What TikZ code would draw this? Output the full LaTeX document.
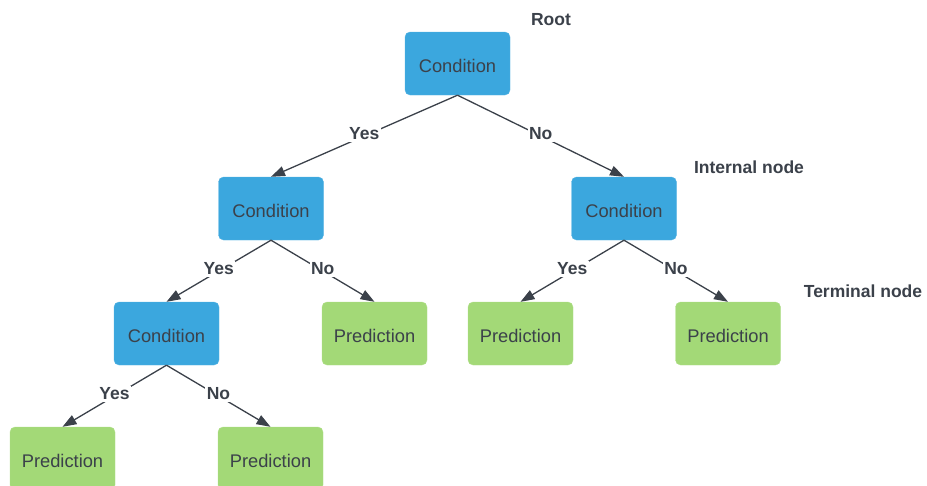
\documentclass[tikz,border=0pt]{standalone}
\usepackage{fontspec}
\setmainfont{Liberation Sans}
\usetikzlibrary{arrows.meta}
\definecolor{condblue}{HTML}{3BA7DE}
\definecolor{predgreen}{HTML}{A3D977}
\definecolor{inkgray}{HTML}{3B414A}
\begin{document}
\begin{tikzpicture}[x=1pt,y=-1pt,
	box/.style={rounded corners=5pt,minimum width=105pt,minimum height=63pt,inner sep=0pt,text height=18pt,text depth=0pt,font=\fontsize{18.3}{21}\selectfont,text=inkgray},
	cond/.style={box,fill=condblue,draw=condblue!85!white},
	pred/.style={box,fill=predgreen,draw=predgreen!85!white},
	edge/.style={draw=inkgray,line width=1.3pt,-{Triangle[length=14pt,width=10pt]}},
	lbl/.style={fill=white,inner sep=1.5pt,yshift=2pt,text=inkgray,font=\fontsize{17.5}{20}\selectfont\bfseries},
	note/.style={text=inkgray,font=\fontsize{17.5}{20}\selectfont\bfseries}]
	\useasboundingbox (0,0) rectangle (927,485);
	% tree
	\node[cond] (root) at (457.5,63.5) {Condition};
	\node[cond] (c1) at (271,208.5) {Condition};
	\node[cond] (c2) at (624,208.5) {Condition};
	\node[cond] (c3) at (166.5,333.5) {Condition};
	\node[pred] (p1) at (374.5,333.5) {Prediction};
	\node[pred] (p2) at (520.5,333.5) {Prediction};
	\node[pred] (p3) at (728,333.5) {Prediction};
	\node[pred] (p4) at (62.5,458.5) {Prediction};
	\node[pred] (p5) at (270.5,458.5) {Prediction};
	% branches
	\draw[edge] (root.south)--(c1.north)node[lbl,pos=0.5]{Yes};
	\draw[edge] (root.south)--(c2.north)node[lbl,pos=0.5]{No};
	\draw[edge] (c1.south)--(c3.north)node[lbl,pos=0.5]{Yes};
	\draw[edge] (c1.south)--(p1.north)node[lbl,pos=0.5]{No};
	\draw[edge] (c2.south)--(p2.north)node[lbl,pos=0.5]{Yes};
	\draw[edge] (c2.south)--(p3.north)node[lbl,pos=0.5]{No};
	\draw[edge] (c3.south)--(p4.north)node[lbl,pos=0.5]{Yes};
	\draw[edge] (c3.south)--(p5.north)node[lbl,pos=0.5]{No};
	% notes
	\node[note] (rootnote) at (551,20) {Root};
	\node[note] (internalnote) at (749,167) {Internal node};
	\node[note] (terminalnote) at (863,291) {Terminal node};
\end{tikzpicture}
\end{document}
